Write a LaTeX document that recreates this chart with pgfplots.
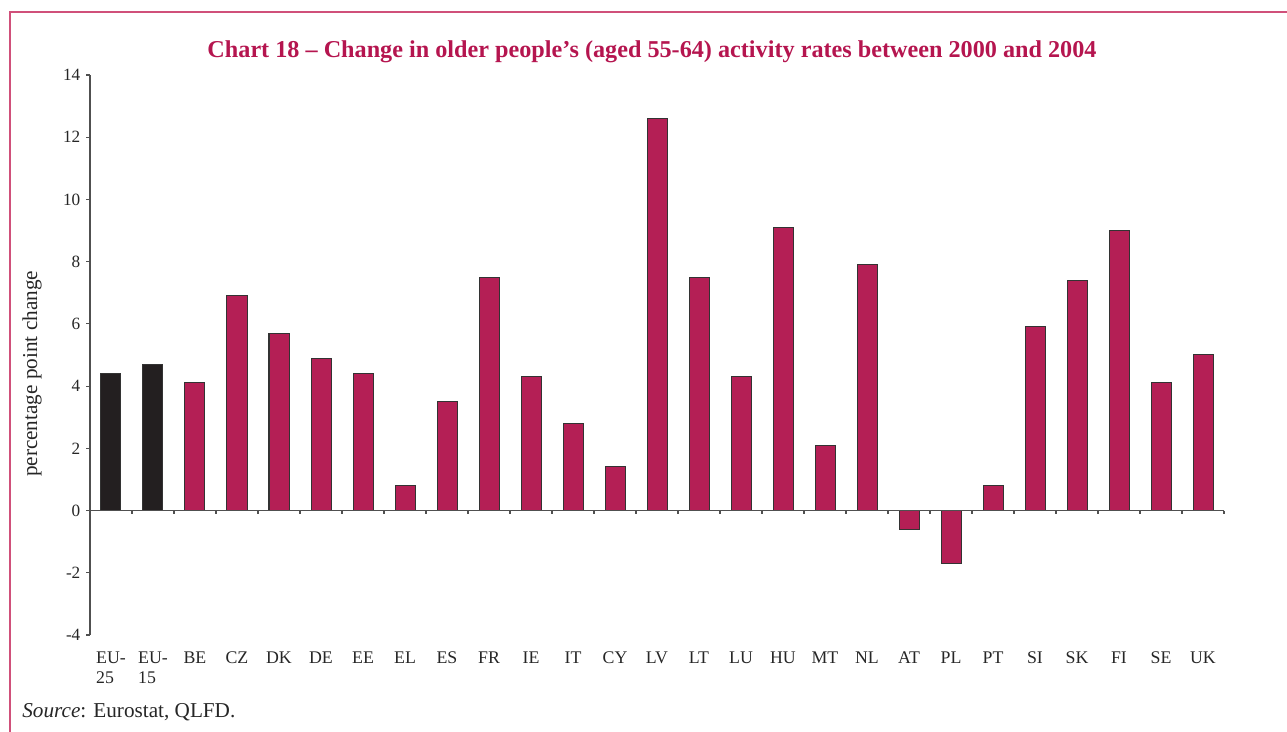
\documentclass[border=0pt]{standalone}
\usepackage{pgfplots}
\pgfplotsset{compat=1.18}
\usepackage{fontspec}
\setmainfont{Liberation Serif}
\definecolor{crim}{HTML}{B41F55}
\definecolor{titlec}{HTML}{B5154F}
\definecolor{framec}{HTML}{D0507A}
\definecolor{darkbar}{HTML}{231F20}
\definecolor{axc}{HTML}{505050}
\begin{document}
\begin{tikzpicture}
\path[use as bounding box] (0,0) rectangle (643.5pt,366pt);
\draw[framec, line width=1pt] (5pt,0) -- (5pt,360pt) -- (643.5pt,360pt);
\begin{axis}[
  at={(45pt,48.5pt)}, anchor=south west,
  scale only axis, width=567pt, height=280pt,
  xmin=-0.5, xmax=26.5, ymin=-4, ymax=14,
  ybar, bar width=10pt, bar shift=0pt,
  axis y line*=left,
  axis x line*=bottom,
  x axis line style={draw=none},
  y axis line style={axc, line width=0.6pt},
  ytick={-4,-2,...,14},
  ytick style={axc, line width=0.6pt},
  tick align=outside,
  major tick length=1.8pt,
  xtick={0,...,26},
  x tick style={draw=none},
  xticklabels={{EU-\\25},{EU-\\15},BE,CZ,DK,DE,EE,EL,ES,FR,IE,IT,CY,LV,LT,LU,HU,MT,NL,AT,PL,PT,SI,SK,FI,SE,UK},
  xticklabel style={align=left, font=\fontsize{8.9pt}{10pt}\selectfont, text=black!85, anchor=north, yshift=-3pt},
  yticklabel style={font=\fontsize{8.6pt}{10pt}\selectfont, text=black!85, xshift=0.5pt},
  /pgf/number format/assume math mode=true,
  clip=false,
]
\addplot[fill=darkbar, draw=black!80, line width=0.5pt] coordinates {(0,4.4) (1,4.7)};
\addplot[fill=crim, draw=black!80, line width=0.5pt] coordinates {
(2,4.1) (3,6.9) (4,5.7) (5,4.9) (6,4.4) (7,0.8) (8,3.5) (9,7.5) (10,4.3) (11,2.8)
(12,1.4) (13,12.6) (14,7.5) (15,4.3) (16,9.1) (17,2.1) (18,7.9) (19,-0.6) (20,-1.7)
(21,0.8) (22,5.9) (23,7.4) (24,9.0) (25,4.1) (26,5.0)};
\draw[axc, line width=0.6pt] (axis cs:-0.5,0) -- (axis cs:26.5,0);
\pgfplotsinvokeforeach{-0.5,0.5,1.5,2.5,3.5,4.5,5.5,6.5,7.5,8.5,9.5,10.5,11.5,12.5,13.5,14.5,15.5,16.5,17.5,18.5,19.5,20.5,21.5,22.5,23.5,24.5,25.5,26.5}{
  \draw[axc, line width=0.6pt] (axis cs:#1,0) -- (axis cs:#1,-0.12);
}
\end{axis}
\node[text=titlec, font=\fontsize{12.1pt}{14pt}\selectfont\bfseries] at (326pt,340pt) {Chart 18 – Change in older people’s (aged 55-64) activity rates between 2000 and 2004};
\node[rotate=90, font=\fontsize{10.6pt}{12pt}\selectfont, text=black!85] at (16pt,179pt) {percentage point change};
\node[anchor=west, font=\fontsize{10.6pt}{12pt}\selectfont, text=black!85, inner sep=0pt] at (11pt,10pt) {\textit{Source}: Eurostat, QLFD.};
\end{tikzpicture}
\end{document}
